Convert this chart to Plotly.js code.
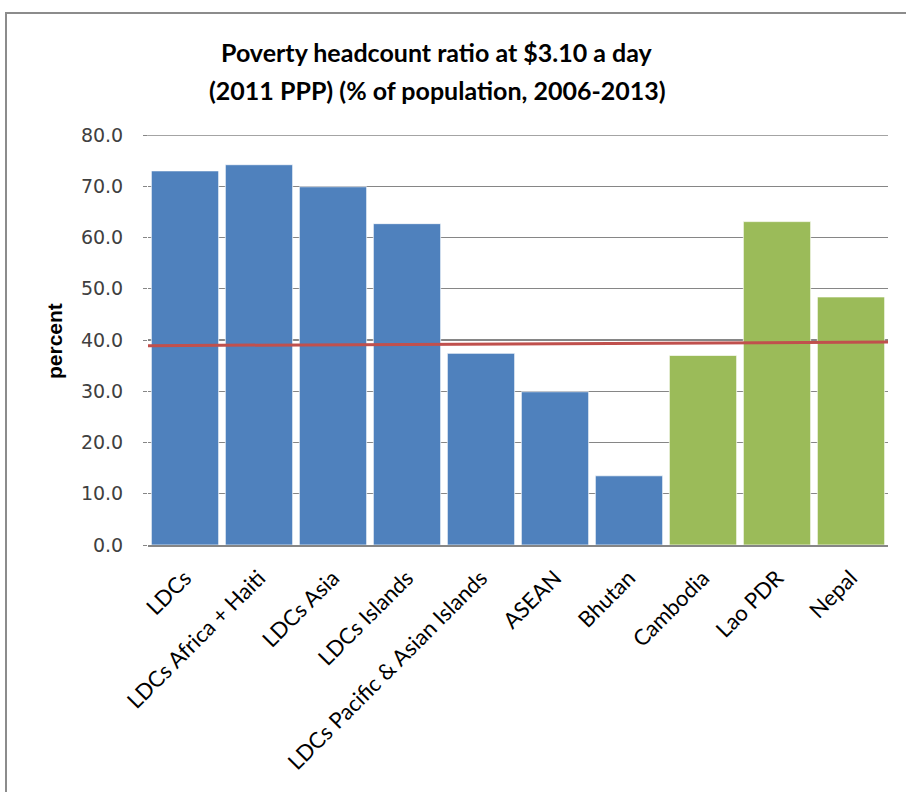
<!DOCTYPE html>
<html>
<head>
<meta charset="utf-8">
<script src="https://cdn.plot.ly/plotly-3.0.1.min.js"></script>
<style>
  html, body { margin: 0; padding: 0; background: #fff; }
  #frame { position: absolute; left: 5px; top: 12px; width: 1000px; height: 1000px; border: 2px solid #8c8c8c; box-sizing: border-box; }
  #chart { position: absolute; left: 0; top: 0; width: 906px; height: 792px; }
</style>
</head>
<body>
<div id="frame"></div>
<div id="chart"></div>
<script>
// ---- data ----
const allCategories = ["LDCs", "LDCs Africa + Haiti", "LDCs Asia", "LDCs Islands",
  "LDCs Pacific & Asian Islands", "ASEAN", "Bhutan", "Cambodia", "Lao PDR", "Nepal"];
const groupCategories = ["LDCs", "LDCs Africa + Haiti", "LDCs Asia", "LDCs Islands",
  "LDCs Pacific & Asian Islands", "ASEAN", "Bhutan"];
const groupValues = [73.0, 74.2, 69.9, 62.7, 37.4, 29.9, 13.5];
const countryCategories = ["Cambodia", "Lao PDR", "Nepal"];
const countryValues = [37.0, 63.1, 48.4];
const refLineX = [0, 1];          // start and end of the plot width
const refLineValues = [38.9, 39.6];
const yTickValues = [0, 10, 20, 30, 40, 50, 60, 70, 80];
const titleLines = ["Poverty headcount ratio at $3.10 a day", "(2011 PPP) (% of population, 2006-2013)"];
const yTitle = "percent";

const barLine = { color: "rgba(255,255,255,0.7)", width: 1 };

const traces = [
  { type: "bar", x: groupCategories, y: groupValues,
    marker: { color: "#4F81BD", line: barLine } },
  { type: "bar", x: countryCategories, y: countryValues,
    marker: { color: "#9BBB59", line: barLine } },
  { type: "scatter", mode: "lines", x: refLineX, y: refLineValues, xaxis: "x2", yaxis: "y",
    line: { color: "#C0504D", width: 3 } }
];

const titleFont = { family: "Lato, 'Open Sans', sans-serif", size: 25, color: "#000", weight: "bold" };
const yMax = yTickValues[yTickValues.length - 1];

const layout = {
  width: 906, height: 792,
  paper_bgcolor: "rgba(0,0,0,0)",
  plot_bgcolor: "rgba(0,0,0,0)",
  showlegend: false,
  barmode: "overlay",
  bargap: 0.09,
  margin: { l: 148, r: 18, t: 135, b: 247 },
  shapes: [
    // top gridline (Plotly skips the grid line that sits on the range edge)
    { type: "line", xref: "paper", x0: 0, x1: 1, yref: "y", y0: yMax, y1: yMax,
      line: { color: "#868686", width: 1.3 }, layer: "below" },
    { type: "line", xref: "paper", x0: -0.006, x1: 0, yref: "y", y0: yMax, y1: yMax,
      line: { color: "#868686", width: 1.3 }, layer: "below" }
  ],
  annotations: [
    { text: titleLines[0], xref: "paper", yref: "paper", x: (437 - 148) / 740, y: (545 - 52) / 410,
      xanchor: "center", yanchor: "middle", showarrow: false, font: titleFont },
    { text: titleLines[1], xref: "paper", yref: "paper", x: (437 - 148) / 740, y: (545 - 90) / 410,
      xanchor: "center", yanchor: "middle", showarrow: false, font: titleFont },
    { text: yTitle, xref: "paper", yref: "paper", x: (54 - 148) / 740, y: (545 - 341) / 410, textangle: -90,
      xanchor: "center", yanchor: "middle", showarrow: false,
      font: { family: "'Liberation Sans', Arial, sans-serif", size: 21, color: "#000", weight: "bold" } }
  ],
  xaxis: {
    type: "category",
    categoryorder: "array", categoryarray: allCategories,
    tickangle: -45,
    tickfont: { family: "Lato, sans-serif", size: 22, color: "#000" },
    ticklabelstandoff: 10,
    showline: true, linecolor: "#868686", linewidth: 1.5,
    ticks: "", showgrid: false, fixedrange: true
  },
  xaxis2: {
    overlaying: "x", range: [0, 1], visible: false, fixedrange: true
  },
  yaxis: {
    range: [0, yMax],
    tickvals: yTickValues,
    tickformat: ".1f",
    tickfont: { family: "'DejaVu Sans', sans-serif", size: 19, color: "#404040" },
    ticklabelstandoff: 16,
    showgrid: true, gridcolor: "#868686", gridwidth: 1.3,
    zeroline: false, showline: false,
    ticks: "outside", ticklen: 4, tickcolor: "#868686",
    fixedrange: true
  }
};

Plotly.newPlot("chart", traces, layout, { displayModeBar: false, staticPlot: true });
</script>
</body>
</html>
